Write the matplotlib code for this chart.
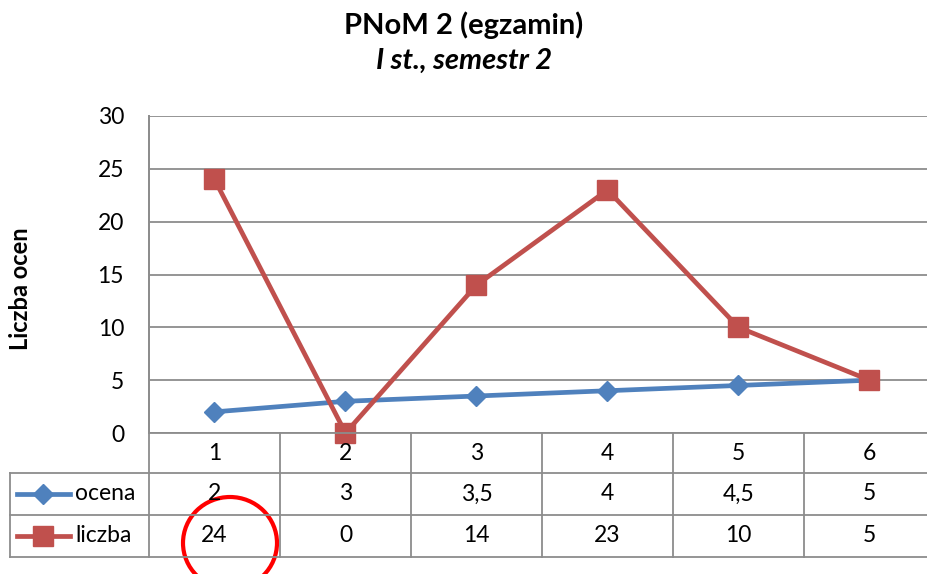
import matplotlib
matplotlib.use('Agg')
import numpy as np
from matplotlib import pyplot as plt
from matplotlib.lines import Line2D
from matplotlib.patches import Ellipse
import matplotlib.transforms as mtransforms

plt.rcParams['font.family'] = ['Lato', 'DejaVu Sans']

# data
kolumny = [1, 2, 3, 4, 5, 6]
ocena = [2, 3, 3.5, 4, 4.5, 5]
liczba = [24, 0, 14, 23, 10, 5]
ocena_txt = ['2', '3', '3,5', '4', '4,5', '5']
liczba_txt = ['24', '0', '14', '23', '10', '5']

blue = '#4F81BD'
red = '#C0504D'
grid_c = '#8C8C8C'

W, H = 928, 574
fig = plt.figure(figsize=(W/100, H/100), dpi=100)

def fx(x):
    return x / W

def fy(y):
    return 1 - y / H

# plot area in pixels (top-origin)
left, top, bottom = 149, 116, 433
colw = 131
fs = 16.5
ax = fig.add_axes([fx(left), fy(bottom), 6*colw/W, (bottom-top)/H])
ax.plot(kolumny, ocena, color=blue, lw=3.4, marker='D', ms=10, mec=blue, mfc=blue,
        label='ocena', zorder=3, clip_on=False)
ax.plot(kolumny, liczba, color=red, lw=3.4, marker='s', ms=14, mec=red, mfc=red,
        label='liczba', zorder=4, clip_on=False)
ax.set_xlim(0.5, 6.5)
ax.set_ylim(0, 30)
ax.set_yticks(range(0, 31, 5))
ax.set_xticks([])
ax.tick_params(axis='y', length=0, pad=18, labelsize=fs)
ax.yaxis.grid(True, color=grid_c, lw=1.3)
ax.set_axisbelow(True)
for s in ['top', 'right', 'bottom']:
    ax.spines[s].set_visible(False)
ax.spines['left'].set_color(grid_c)
ax.spines['left'].set_linewidth(1.3)

# data table under the chart
row_y = [433, 473, 515, 557]
def hline(x0, x1, y):
    fig.add_artist(Line2D([fx(x0), fx(x1)], [fy(y), fy(y)], color=grid_c, lw=1.3))
def vline(x, y0, y1):
    fig.add_artist(Line2D([fx(x), fx(x)], [fy(y0), fy(y1)], color=grid_c, lw=1.3))

hline(left, W, row_y[0])
for y in row_y[1:]:
    hline(10, W, y)
vline(10, row_y[1], row_y[3])
vline(left, top, row_y[3])
for i in range(1, 6):
    vline(left + i*colw, row_y[0], row_y[3])

tr = mtransforms.blended_transform_factory(ax.transData, fig.transFigure)
rows = [[str(k) for k in kolumny], ocena_txt, liczba_txt]
for r, vals in enumerate(rows):
    yc = fy((row_y[r] + row_y[r+1]) / 2)
    for k, v in zip(kolumny, vals):
        fig.text(k, yc, v, transform=tr, ha='center', va='center', fontsize=fs)

# legend keys in the table
for r, (name, c, m, ms) in enumerate([('ocena', blue, 'D', 10), ('liczba', red, 's', 14)]):
    yc = fy((row_y[r+1] + row_y[r+2]) / 2)
    fig.add_artist(Line2D([fx(17), fx(70)], [yc, yc], color=c, lw=3.4))
    fig.add_artist(Line2D([fx(43)], [yc], color=c, marker=m, ms=ms, mec=c, mfc=c))
    fig.text(fx(75), yc, name, ha='left', va='center', fontsize=fs)

# titles
fig.text(0.5, fy(34), 'PNoM 2 (egzamin)', ha='center', va='baseline', fontsize=21,
         fontweight='bold')
fig.text(0.5, fy(69), 'I st., semestr 2', ha='center', va='baseline', fontsize=21,
         fontweight='bold', style='italic')
fig.text(fx(21), fy(289), 'Liczba ocen', rotation=90, ha='center', va='center',
         fontsize=17, fontweight='bold')

# red circle around the first liczba value
fig.add_artist(Ellipse((fx(230), fy(543)), 94/W, 92/H, fill=False, ec='#FF0000', lw=3))

plt.savefig('out.png', dpi=100)
